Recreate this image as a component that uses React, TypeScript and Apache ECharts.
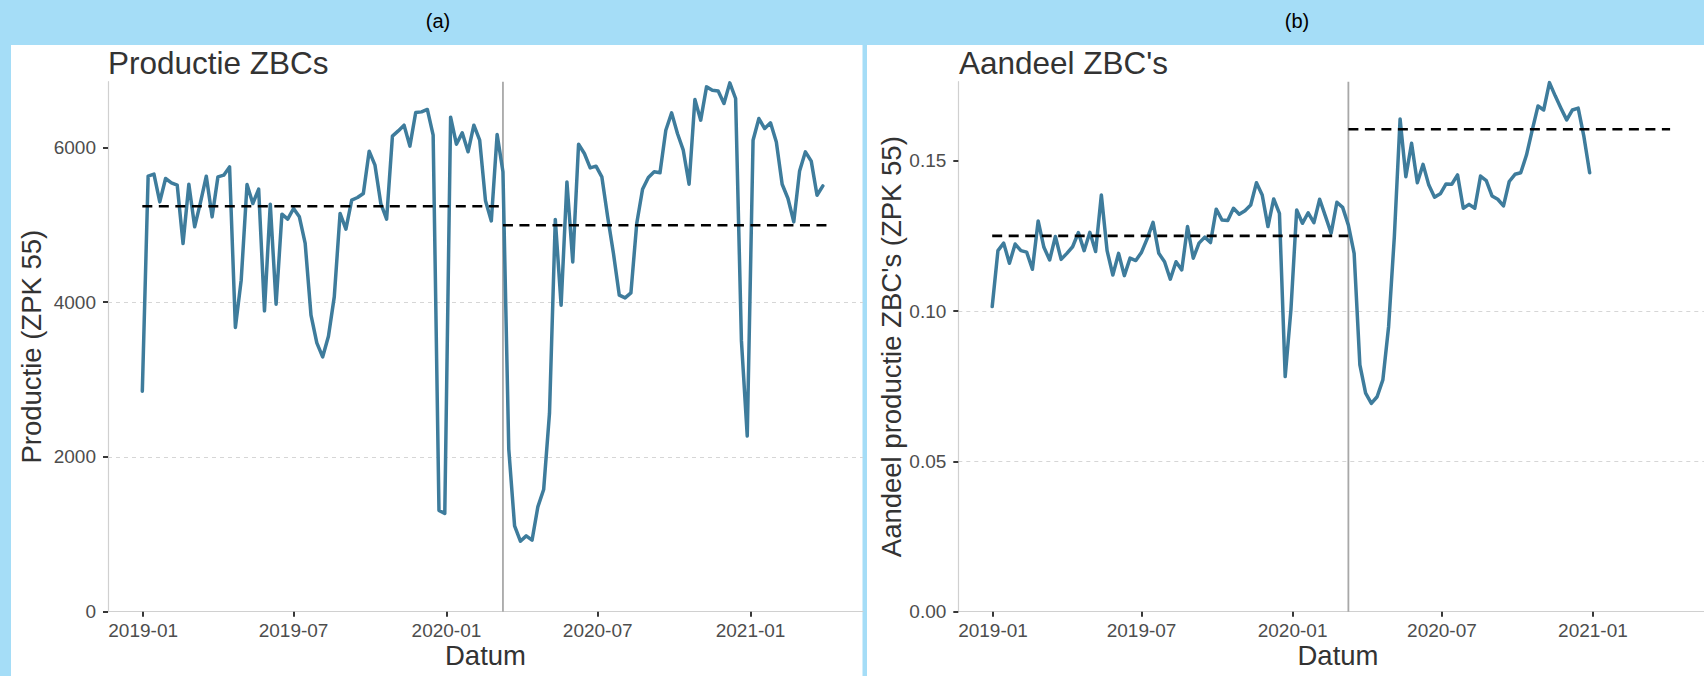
import React, { useEffect, useRef } from "react";
import * as echarts from "echarts";

const DAY = 86400000;
const START = Date.UTC(2018, 11, 31); // first weekly observation (Monday)
const BREAK_DATE = Date.UTC(2020, 2, 9);
const MEAN_END = Date.UTC(2021, 3, 5);

const xTickDates = [
  Date.UTC(2019, 0, 1),
  Date.UTC(2019, 6, 1),
  Date.UTC(2020, 0, 1),
  Date.UTC(2020, 6, 1),
  Date.UTC(2021, 0, 1),
];
const yTicksA = [0, 2000, 4000, 6000];
const yTicksB = [0, 0.05, 0.1, 0.15];

// Weekly production (ZPK 55), from 2018-12-31
const productie = [
  2850, 5630, 5655, 5297, 5599, 5543, 5513, 4759, 5525, 4974,
  5290, 5629, 5103, 5620, 5642, 5749, 3673, 4285, 5521, 5276,
  5461, 3888, 5267, 3974, 5138, 5073, 5211, 5103, 4759, 3832,
  3474, 3293, 3561, 4069, 5147, 4944, 5319, 5353, 5405, 5952,
  5771, 5276, 5073, 6146, 6214, 6288, 6017, 6452, 6460, 6491,
  6159, 1310, 1270, 6392, 6042, 6189, 5944, 6288, 6094, 5310,
  5051, 6168, 5685, 2100, 1109, 911, 980, 924, 1355, 1579,
  2562, 5070, 3961, 5555, 4521, 6042, 5922, 5736, 5758, 5620,
  5103, 4629, 4091, 4056, 4121, 5017, 5461, 5612, 5685, 5672,
  6223, 6447, 6181, 5965, 5525, 6620, 6353, 6783, 6740, 6731,
  6568, 6835, 6633, 3500, 2270, 6094, 6374, 6245, 6318, 6072,
  5525, 5340, 5038, 5697, 5944, 5823, 5383, 5503,
];

// Weekly share of ZBC production, from 2018-12-31
const aandeel = [
  0.1015, 0.1201, 0.1226, 0.1159, 0.1223, 0.1201, 0.1196, 0.1139, 0.1300, 0.1212,
  0.1170, 0.1248, 0.1172, 0.1192, 0.1214, 0.1261, 0.1201, 0.1262, 0.1198, 0.1386,
  0.1201, 0.1120, 0.1192, 0.1118, 0.1176, 0.1168, 0.1196, 0.1242, 0.1295, 0.1192,
  0.1164, 0.1106, 0.1164, 0.1137, 0.1281, 0.1176, 0.1226, 0.1246, 0.1228, 0.1339,
  0.1303, 0.1301, 0.1342, 0.1322, 0.1334, 0.1353, 0.1427, 0.1386, 0.1281, 0.1373,
  0.1325, 0.0782, 0.1005, 0.1336, 0.1292, 0.1327, 0.1294, 0.1372, 0.1316, 0.1259,
  0.1362, 0.1345, 0.1286, 0.1192, 0.0821, 0.0727, 0.0693, 0.0715, 0.0771, 0.0948,
  0.1248, 0.1639, 0.1447, 0.1558, 0.1427, 0.1488, 0.1419, 0.1379, 0.1390, 0.1423,
  0.1422, 0.1453, 0.1342, 0.1355, 0.1342, 0.1449, 0.1434, 0.1383, 0.1372, 0.1350,
  0.1431, 0.1455, 0.1460, 0.1519, 0.1602, 0.1682, 0.1669, 0.1760, 0.1716, 0.1675,
  0.1636, 0.1669, 0.1675, 0.1580, 0.1460,
];

// Period means (before / after the break)
const meansA = [5240, 4995];
const meansB = [0.125, 0.1605];

const Y_MAX_A = 6850;
const Y_MAX_B = 0.1763;

const LINE_COLOR = "#3e7c9c";
const FONT = "'Liberation Sans', Arial, Helvetica, sans-serif";

const pad = (n: number) => (n < 10 ? "0" + n : "" + n);
const fmtDate = (v: number) => {
  const d = new Date(v);
  return `${d.getUTCFullYear()}-${pad(d.getUTCMonth() + 1)}`;
};

export default function App() {
  const ref = useRef<HTMLDivElement>(null);

  useEffect(() => {
    document.body.style.margin = "0";
    if (!ref.current) return;
    const chart = echarts.init(ref.current, undefined, { renderer: "svg" });

    const span = MEAN_END - START;
    const XMIN = START - 0.05 * span;
    const XMAX = MEAN_END + 0.05 * span;

    const seriesA = productie.map((v, k) => [START + 7 * k * DAY, v]);
    const seriesB = aandeel.map((v, k) => [START + 7 * k * DAY, v]);

    const xAxisBase = (i: number) => ({
      type: "value",
      gridIndex: i,
      min: XMIN,
      max: XMAX,
      scale: true,
      axisLine: { show: true, onZero: false, lineStyle: { color: "#d0d0d0", width: 1.2 } },
      axisTick: {
        show: true,
        length: 5,
        customValues: xTickDates,
        lineStyle: { color: "#222222", width: 1.8 },
      },
      axisLabel: {
        customValues: xTickDates,
        formatter: (v: number) => fmtDate(v),
        color: "#4d4d4d",
        fontSize: 19,
        fontFamily: FONT,
        margin: 9,
        hideOverlap: false,
        showMinLabel: true,
        showMaxLabel: true,
      },
      splitLine: { show: false },
    });

    const yAxisBase = (i: number, max: number, ticks: number[], fmt: (v: number) => string) => ({
      type: "value",
      gridIndex: i,
      min: 0,
      max,
      interval: ticks[1] - ticks[0],
      axisLine: { show: true, lineStyle: { color: "#d0d0d0", width: 1.2 } },
      axisTick: {
        show: true,
        length: 5,
        customValues: ticks,
        lineStyle: { color: "#222222", width: 1.8 },
      },
      axisLabel: {
        customValues: ticks,
        formatter: (v: number) => fmt(v),
        color: "#4d4d4d",
        fontSize: 19,
        fontFamily: FONT,
        margin: 12,
      },
      splitLine: {
        show: true,
        showMinLine: false,
        showMaxLine: false,
        lineStyle: { color: "#d6d6d6", width: 1, type: [4, 4] },
      },
    });

    const dashed = (i: number, data: number[][]) => ({
      type: "line",
      xAxisIndex: i,
      yAxisIndex: i,
      data,
      symbol: "none",
      silent: true,
      z: 4,
      lineStyle: { color: "#000000", width: 2.6, type: [10, 6.5] },
    });

    const vline = (i: number, max: number) => ({
      type: "line",
      xAxisIndex: i,
      yAxisIndex: i,
      data: [
        [BREAK_DATE, 0],
        [BREAK_DATE, max],
      ],
      symbol: "none",
      silent: true,
      z: 1,
      lineStyle: { color: "#a8a8a8", width: 1.8 },
    });

    const mainLine = (i: number, data: number[][]) => ({
      type: "line",
      xAxisIndex: i,
      yAxisIndex: i,
      data,
      symbol: "none",
      z: 3,
      lineStyle: { color: LINE_COLOR, width: 3.5, join: "round", cap: "round" },
    });

    const option: any = {
      animation: false,
      backgroundColor: "#a5ddf7",
      grid: [
        { left: 108, top: 81.7, width: 755, height: 530 },
        { left: 958.3, top: 81.7, width: 759, height: 530 },
      ],
      xAxis: [xAxisBase(0), xAxisBase(1)],
      yAxis: [
        yAxisBase(0, Y_MAX_A, yTicksA, (v) => String(Math.round(v))),
        yAxisBase(1, Y_MAX_B, yTicksB, (v) => v.toFixed(2)),
      ],
      series: [
        vline(0, Y_MAX_A),
        mainLine(0, seriesA),
        dashed(0, [
          [START, meansA[0]],
          [BREAK_DATE, meansA[0]],
        ]),
        dashed(0, [
          [BREAK_DATE, meansA[1]],
          [MEAN_END, meansA[1]],
        ]),
        vline(1, Y_MAX_B),
        mainLine(1, seriesB),
        dashed(1, [
          [START, meansB[0]],
          [BREAK_DATE, meansB[0]],
        ]),
        dashed(1, [
          [BREAK_DATE, meansB[1]],
          [MEAN_END, meansB[1]],
        ]),
      ],
      graphic: [
        { type: "rect", z: -10, shape: { x: 11, y: 45, width: 851.5, height: 640 }, style: { fill: "#ffffff" } },
        { type: "rect", z: -10, shape: { x: 867, y: 45, width: 900, height: 640 }, style: { fill: "#ffffff" } },
        {
          type: "text", z: 10, x: 438, y: 21,
          style: { text: "(a)", fill: "#000000", font: `20px ${FONT}`, align: "center", verticalAlign: "middle" },
        },
        {
          type: "text", z: 10, x: 1297, y: 21,
          style: { text: "(b)", fill: "#000000", font: `20px ${FONT}`, align: "center", verticalAlign: "middle" },
        },
        {
          type: "text", z: 10, x: 108, y: 63,
          style: { text: "Productie ZBCs", fill: "#333333", font: `31.5px ${FONT}`, align: "left", verticalAlign: "middle" },
        },
        {
          type: "text", z: 10, x: 959, y: 63,
          style: { text: "Aandeel ZBC's", fill: "#333333", font: `31.5px ${FONT}`, align: "left", verticalAlign: "middle" },
        },
        {
          type: "text", z: 10, x: 485.5, y: 655,
          style: { text: "Datum", fill: "#333333", font: `27.5px ${FONT}`, align: "center", verticalAlign: "middle" },
        },
        {
          type: "text", z: 10, x: 1338, y: 655,
          style: { text: "Datum", fill: "#333333", font: `27.5px ${FONT}`, align: "center", verticalAlign: "middle" },
        },
        {
          type: "text", z: 10, x: 31, y: 346.7, rotation: Math.PI / 2,
          style: { text: "Productie (ZPK 55)", fill: "#333333", font: `27.5px ${FONT}`, align: "center", verticalAlign: "middle" },
        },
        {
          type: "text", z: 10, x: 891.5, y: 346.7, rotation: Math.PI / 2,
          style: { text: "Aandeel productie ZBC's (ZPK 55)", fill: "#333333", font: `27.5px ${FONT}`, align: "center", verticalAlign: "middle" },
        },
      ],
    };

    chart.setOption(option);
    return () => chart.dispose();
  }, []);

  return <div ref={ref} style={{ width: 1704, height: 676 }} />;
}
